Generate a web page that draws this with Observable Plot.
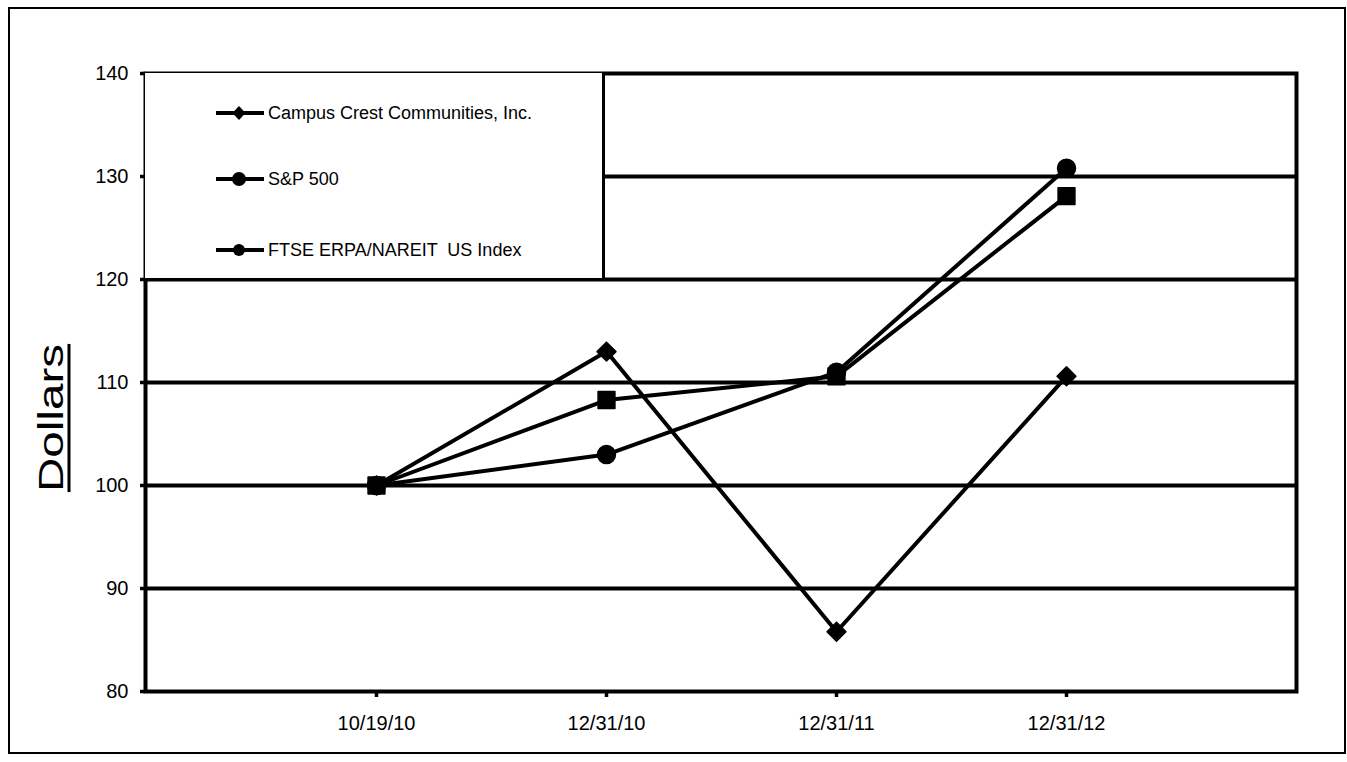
<!DOCTYPE html>
<html>
<head>
<meta charset="utf-8">
<script src="https://cdn.jsdelivr.net/npm/d3@7"></script>
<script src="https://cdn.jsdelivr.net/npm/@observablehq/plot@0.6"></script>
<style>
  html, body { margin: 0; padding: 0; background: white; overflow: hidden; }
  #wrap { position: relative; width: 1347px; height: 762px; font-family: "Liberation Sans", Arial, sans-serif; }
  #outer { position: absolute; left: 8px; top: 7px; width: 1334px; height: 743px; border: 2.5px solid black; pointer-events: none; }
  #ylabel { position: absolute; left: 50px; top: 418px; width: 0; height: 0; }
  #ylabel span { position: absolute; left: 0; top: 0; white-space: nowrap; font-size: 35px; line-height: 1;
    text-decoration: underline; text-decoration-thickness: 3px; text-underline-offset: 5px;
    transform: translate(-50%, -50%) rotate(-90deg) scale(1.36, 1); transform-origin: center; }
  #legend { position: absolute; left: 145px; top: 73px; width: 457px; height: 205px; background: white;
    border-right: 3.5px solid black; border-bottom: 3.5px solid black; }
  .item { position: absolute; left: 70px; height: 20px; display: flex; align-items: center; font-size: 18px; white-space: pre; }
  .item svg { margin-right: 3px; }
</style>
</head>
<body>
<div id="wrap"></div>
<script>
const dates = ["10/19/10", "12/31/10", "12/31/11", "12/31/12"];
const seriesNames = ["Campus Crest Communities, Inc.", "S&P 500", "FTSE ERPA/NAREIT  US Index"];
const campus = [100, 113.0, 85.8, 110.6];
const sp500 = [100, 108.3, 110.6, 128.1];
const ftse = [100, 103.0, 111.0, 130.8];
const yTicks = [80, 90, 100, 110, 120, 130, 140];
const gridValues = [90, 100, 110, 120, 130];

const seriesValues = [campus, sp500, ftse];
const symbols = ["diamond2", "square", "circle"];
const radii = [8.5, 9.5, 9];
const drawOrder = [0, 2, 1];

const rows = [];
seriesValues.forEach((vals, i) => vals.forEach((v, j) => rows.push({series: seriesNames[i], date: dates[j], value: v})));

const marks = [
  Plot.ruleY(gridValues, {stroke: "black", strokeWidth: 4}),
  Plot.frame({stroke: "black", strokeWidth: 4}),
  Plot.axisX({tickSize: 6, tickPadding: 18, strokeWidth: 3.5, label: null, fontSize: 20}),
  Plot.axisY({ticks: yTicks, tickSize: 5, tickPadding: 12, strokeWidth: 3.5, label: null, fontSize: 20}),
  Plot.line(rows, {x: "date", y: "value", z: "series", stroke: "black", strokeWidth: 4})
];
drawOrder.forEach(i => {
  marks.push(Plot.dot(rows.filter(d => d.series === seriesNames[i]), {
    x: "date", y: "value", symbol: () => symbols[i], r: radii[i],
    fill: "black", stroke: "black", strokeWidth: 1.5, strokeLinejoin: "round"
  }));
});

const chart = Plot.plot({
  width: 1347, height: 762,
  marginLeft: 145, marginRight: 51, marginTop: 73, marginBottom: 71,
  style: {fontFamily: "'Liberation Sans', Arial, sans-serif", fontSize: "20px", color: "black", background: "white", overflow: "visible"},
  x: {type: "point", domain: dates, padding: 1, axis: null},
  y: {domain: [80, 140], axis: null},
  symbol: {type: "identity"},
  marks
});

const wrap = document.getElementById("wrap");
wrap.appendChild(chart);

const outer = document.createElement("div"); outer.id = "outer"; wrap.appendChild(outer);

const yl = document.createElement("div"); yl.id = "ylabel";
yl.innerHTML = "<span>Dollars</span>"; wrap.appendChild(yl);

const legend = document.createElement("div"); legend.id = "legend"; wrap.appendChild(legend);
const rowTops = [30, 96, 167];
const legendMarks = [
  '<polygon points="24,4 29.5,10 24,16 18.5,10" fill="black" stroke="black" stroke-width="1.5" stroke-linejoin="round"/>',
  '<circle cx="24" cy="10" r="7" fill="black"/>',
  '<circle cx="24" cy="10" r="6" fill="black"/>'
];
seriesNames.forEach((name, i) => {
  const it = document.createElement("div");
  it.className = "item";
  it.style.top = rowTops[i] + "px";
  it.innerHTML = '<svg width="50" height="20"><line x1="1" y1="10" x2="49" y2="10" stroke="black" stroke-width="4"/>' +
    legendMarks[i] + '</svg><span></span>';
  it.querySelector("span").textContent = name;
  legend.appendChild(it);
});
</script>
</body>
</html>
